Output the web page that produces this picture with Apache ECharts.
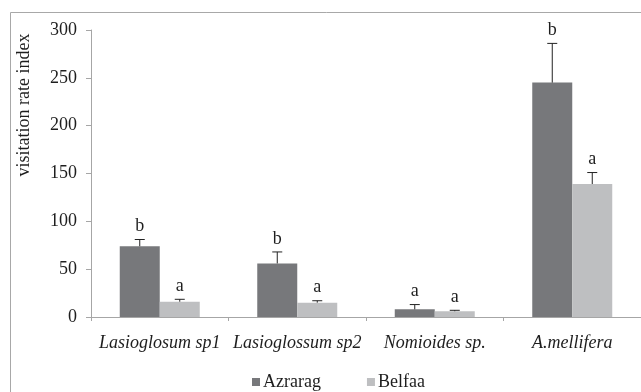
<!DOCTYPE html>
<html><head><meta charset="utf-8">
<script src="https://cdn.jsdelivr.net/npm/echarts@6/dist/echarts.min.js"></script>
<style>html,body{margin:0;padding:0;background:#fff}#c{width:641px;height:392px}</style>
</head><body><div id="c"></div>
<script>
var categories = ['Lasioglosum sp1', 'Lasioglossum sp2', 'Nomioides sp.', 'A.mellifera'];
var seriesNames = ['Azrarag', 'Belfaa'];
var azrarag = [74, 56, 8, 245];
var azraragErr = [7, 12, 5, 41];
var azraragLetters = ['b', 'b', 'a', 'b'];
var belfaa = [16, 15, 6, 139];
var belfaaErr = [2.5, 2, 1, 12];
var belfaaLetters = ['a', 'a', 'a', 'a'];
var yTicks = [0, 50, 100, 150, 200, 250, 300];

var FONT = 'Liberation Serif';
var FS = 18;
var TXT = '#1e1e1e';
var BAR_W = 40;
var colors = ['#77787b', '#bebfc1'];

function errSeries(vals, errs, letters, side) {
  var data = vals.map(function (v, i) { return [i, v, errs[i]]; });
  return {
    type: 'custom',
    silent: true,
    z: 5,
    data: data,
    renderItem: function (params, api) {
      var i = api.value(0), v = api.value(1), e = api.value(2);
      var base = api.coord([i, v]);
      var top = api.coord([i, v + e]);
      var x = base[0] + side * BAR_W / 2;
      var st = { stroke: '#222', lineWidth: 1 };
      return {
        type: 'group',
        children: [
          { type: 'line', shape: { x1: x, y1: base[1], x2: x, y2: top[1] }, style: st },
          { type: 'line', shape: { x1: x - 5, y1: top[1], x2: x + 5, y2: top[1] }, style: st },
          { type: 'text', style: { x: x, y: top[1] - 4, text: letters[i], textAlign: 'center', textVerticalAlign: 'bottom', font: FS + 'px "' + FONT + '"', fill: TXT } }
        ]
      };
    }
  };
}

var chart = echarts.init(document.getElementById('c'));
chart.setOption({
  animation: false,
  backgroundColor: '#fff',
  textStyle: { fontFamily: FONT, color: TXT },
  grid: { left: 91, top: 30, bottom: 75, width: 556 },
  graphic: [
    { type: 'rect', shape: { x: 10.5, y: 12.5, width: 700, height: 400 }, style: { fill: 'none', stroke: '#a8a8a8', lineWidth: 1 }, z: -1 },
    { type: 'text', x: 24, y: 105, rotation: Math.PI / 2, style: { text: 'visitation rate index', textAlign: 'center', textVerticalAlign: 'middle', font: FS + 'px "' + FONT + '"', fill: TXT } }
  ],
  legend: {
    left: 247, top: 368,
    itemWidth: 8, itemHeight: 8, itemGap: 46,
    icon: 'rect',
    textStyle: { fontFamily: FONT, fontSize: FS, color: TXT, padding: [0, 0, 0, -2] },
    data: seriesNames
  },
  xAxis: {
    type: 'category',
    data: categories,
    axisLine: { lineStyle: { color: '#a6a6a6', width: 1 } },
    axisTick: { show: true, length: 4, lineStyle: { color: '#a6a6a6' } },
    axisLabel: { fontFamily: FONT, fontSize: FS, fontStyle: 'italic', color: TXT, margin: 17, interval: 0 }
  },
  yAxis: {
    type: 'value', min: 0, max: 300, interval: 50,
    axisLine: { show: true, lineStyle: { color: '#a6a6a6', width: 1 } },
    axisTick: { show: true, length: 5, lineStyle: { color: '#a6a6a6' } },
    splitLine: { show: false },
    axisLabel: { fontFamily: FONT, fontSize: FS, color: TXT, margin: 14,
      formatter: function (v) { return yTicks.indexOf(v) >= 0 ? String(v) : ''; } }
  },
  series: [
    { name: seriesNames[0], type: 'bar', data: azrarag, barWidth: BAR_W, barGap: '0%', itemStyle: { color: colors[0] } },
    { name: seriesNames[1], type: 'bar', data: belfaa, barWidth: BAR_W, barGap: '0%', itemStyle: { color: colors[1] } },
    errSeries(azrarag, azraragErr, azraragLetters, -1),
    errSeries(belfaa, belfaaErr, belfaaLetters, 1)
  ]
});
</script></body></html>
